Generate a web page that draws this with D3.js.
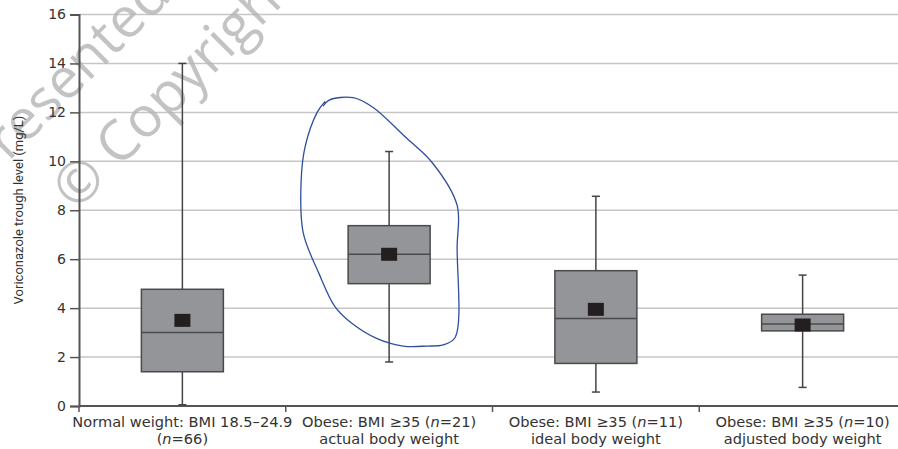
<!DOCTYPE html>
<html>
<head>
<meta charset="utf-8">
<script src="https://cdn.jsdelivr.net/npm/d3@7"></script>
<style>
  body { margin: 0; background: #fff; }
  svg { display: block; }
</style>
</head>
<body>
<svg width="898" height="449"></svg>
<script>
// groups (label line 1, line 2)
var groups = ["normal", "obeseActual", "obeseIdeal", "obeseAdjusted"]
var labelTop = ["Normal weight: BMI 18.5\u201324.9", "Obese: BMI \u226535 (n=21)", "Obese: BMI \u226535 (n=11)", "Obese: BMI \u226535 (n=10)"]
var labelBottom = ["(n=66)", "actual body weight", "ideal body weight", "adjusted body weight"]

// box stats (mg/L)
var whiskerLow = [0.05, 1.8, 0.57, 0.76]
var q1 = [1.4, 5.0, 1.74, 3.07]
var median = [3.0, 6.2, 3.58, 3.35]
var q3 = [4.77, 7.37, 5.53, 3.75]
var whiskerHigh = [14.0, 10.4, 8.57, 5.35]
var mean = [3.5, 6.2, 3.95, 3.31]

var yTicks = [0, 2, 4, 6, 8, 10, 12, 14, 16]

var svg = d3.select("svg")
var font = "'DejaVu Sans', sans-serif"

var x = d3.scaleBand().domain(groups).range([79, 906]).padding(0)
var y = d3.scaleLinear().domain([0, 16]).range([406, 14.5])

// gridlines
svg.append("g").selectAll("line").data(yTicks.slice(1)).enter().append("line")
    .attr("x1", 79).attr("x2", 898)
    .attr("y1", d => y(d)).attr("y2", d => y(d))
    .attr("stroke", "#c6c6c6").attr("stroke-width", 1.5)

// watermark, faint, under the boxes
var wm = svg.append("g").attr("transform", "translate(8,178) rotate(-45)")
    .attr("fill", "#b4b4b4").attr("fill-opacity", 0.8)
    .style("font-family", "'Open Sans', sans-serif").style("font-size", "56px")
wm.append("text").attr("x", -22).attr("y", -11).text("Presented")
wm.append("text").attr("x", 24).attr("y", 72).text("\u00a9 Copyright")

// y axis
var yAxis = svg.append("g").attr("transform", "translate(79,0)")
    .call(d3.axisLeft(y).tickValues(yTicks).tickSize(9).tickPadding(4))
yAxis.select(".domain").attr("stroke", "#555").attr("stroke-width", 2)
yAxis.selectAll(".tick line").attr("stroke", "#555").attr("stroke-width", 1.5)
yAxis.selectAll(".tick text").attr("fill", "#333")
    .style("font-family", font).style("font-size", "14px")

// x axis line + boundary ticks
var bounds = groups.map(g => x(g)).concat([x.range()[1]])
svg.append("line").attr("x1", 79).attr("x2", 898)
    .attr("y1", y(0)).attr("y2", y(0))
    .attr("stroke", "#555").attr("stroke-width", 2)
svg.append("g").selectAll("line").data(bounds).enter().append("line")
    .attr("x1", d => d).attr("x2", d => d)
    .attr("y1", y(0)).attr("y2", y(0) + 6)
    .attr("stroke", "#555").attr("stroke-width", 1.5)

// category labels, "n" in italics
function fillLabel(t, s) {
    var parts = s.split("n=")
    if (parts.length > 1) {
        t.append("tspan").text(parts[0])
        t.append("tspan").attr("font-style", "italic").text("n")
        t.append("tspan").text("=" + parts[1])
    } else {
        t.text(s)
    }
}
var lab = svg.append("g").style("font-family", font).style("font-size", "14.6px")
    .attr("fill", "#333").attr("text-anchor", "middle")
groups.forEach(function (g, i) {
    var cx = x(g) + x.bandwidth() / 2
    fillLabel(lab.append("text").attr("x", cx).attr("y", 427), labelTop[i])
    fillLabel(lab.append("text").attr("x", cx).attr("y", 444), labelBottom[i])
})

// y title
svg.append("text")
    .attr("transform", "translate(23,210) rotate(-90)")
    .attr("text-anchor", "middle").attr("fill", "#333")
    .style("font-family", "'Liberation Sans Narrow', 'Roboto', sans-serif")
    .style("font-size", "13px")
    .text("Voriconazole trough level (mg/L)")

// boxes
var boxW = 82, capW = 8, meanW = 16, meanH = 13
var stats = groups.map((g, i) => ({g: g, lo: whiskerLow[i], q1: q1[i], md: median[i],
    q3: q3[i], hi: whiskerHigh[i], mean: mean[i]}))

var box = svg.append("g").selectAll("g").data(stats).enter().append("g")
    .attr("transform", d => "translate(" + (x(d.g) + x.bandwidth() / 2) + ",0)")

box.append("line").attr("x1", 0).attr("x2", 0)
    .attr("y1", d => y(d.hi)).attr("y2", d => y(d.lo))
    .attr("stroke", "#444").attr("stroke-width", 1.5)
box.append("line").attr("x1", -capW / 2).attr("x2", capW / 2)
    .attr("y1", d => y(d.hi)).attr("y2", d => y(d.hi))
    .attr("stroke", "#444").attr("stroke-width", 1.5)
box.append("line").attr("x1", -capW / 2).attr("x2", capW / 2)
    .attr("y1", d => y(d.lo)).attr("y2", d => y(d.lo))
    .attr("stroke", "#444").attr("stroke-width", 1.5)
box.append("rect").attr("x", -boxW / 2).attr("width", boxW)
    .attr("y", d => y(d.q3)).attr("height", d => y(d.q1) - y(d.q3))
    .attr("fill", "#939598").attr("stroke", "#4a4a4c").attr("stroke-width", 1.5)
box.append("line").attr("x1", -boxW / 2).attr("x2", boxW / 2)
    .attr("y1", d => y(d.md)).attr("y2", d => y(d.md))
    .attr("stroke", "#4a4a4c").attr("stroke-width", 1.5)
box.append("rect").attr("x", -meanW / 2).attr("width", meanW)
    .attr("y", d => y(d.mean) - meanH / 2).attr("height", meanH)
    .attr("fill", "#231f20")

// hand-drawn blue loop around the 2nd group (px offset from its centre, value units)
var loop = [[-66, 12.25], [-60, 12.5], [-36, 12.6], [-16, 12.2], [16, 11.0], [44, 9.9],
    [68, 8.2], [68, 6.5], [66, 2.8], [54, 2.5], [38, 2.45], [14, 2.45], [-12, 2.75], [-38, 3.4],
    [-54, 4.05], [-70, 5.4], [-86, 7.1], [-88, 9.2], [-84, 10.6], [-72, 12.0], [-64, 12.45]]
var cx2 = x(groups[1]) + x.bandwidth() / 2
svg.append("path")
    .datum(loop)
    .attr("d", d3.line().x(d => cx2 + d[0]).y(d => y(d[1])).curve(d3.curveCatmullRom))
    .attr("fill", "none").attr("stroke", "#2f4f9a").attr("stroke-width", 1.3)
</script>
</body>
</html>
